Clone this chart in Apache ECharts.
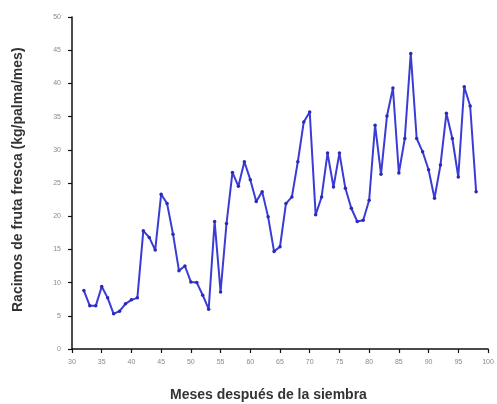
<!DOCTYPE html>
<html>
<head>
<meta charset="utf-8">
<script src="https://cdn.jsdelivr.net/npm/echarts@6/dist/echarts.min.js"></script>
<style>html,body{margin:0;padding:0;background:#fff;}#c{width:497px;height:404px;}</style>
</head>
<body>
<div id="c"></div>
<script>
const months = [32,33,34,35,36,37,38,39,40,41,42,43,44,45,46,47,48,49,50,51,52,53,54,55,56,57,58,59,60,61,62,63,64,65,66,67,68,69,70,71,72,73,74,75,76,77,78,79,80,81,82,83,84,85,86,87,88,89,90,91,92,93,94,95,96,97,98];
const racimos = [8.8,6.5,6.5,9.4,7.7,5.3,5.7,6.8,7.4,7.7,17.8,16.8,14.9,23.3,21.9,17.3,11.8,12.5,10.1,10.0,8.1,6.0,19.2,8.6,18.9,26.6,24.5,28.2,25.5,22.2,23.7,19.9,14.7,15.4,21.9,22.9,28.2,34.2,35.7,20.2,22.9,29.5,24.4,29.5,24.2,21.2,19.2,19.4,22.4,33.7,26.3,35.1,39.3,26.5,31.7,44.5,31.7,29.7,27.0,22.7,27.7,35.5,31.7,25.9,39.5,36.6,23.7];
const xTitle = 'Meses después de la siembra';
const yTitle = 'Racimos de fruta fresca (kg/palma/mes)';

const chart = echarts.init(document.getElementById('c'));
chart.setOption({
  animation: false,
  backgroundColor: '#ffffff',
  grid: {left: 72, right: 9, top: 17, bottom: 55},
  xAxis: {
    type: 'value', min: 30, max: 100, interval: 5,
    axisLine: {show: true, lineStyle: {color: '#111', width: 1.5}},
    axisTick: {show: true, length: 4, lineStyle: {color: '#111', width: 1.2}},
    axisLabel: {fontSize: 7, color: '#8a8a8a', fontFamily: 'Liberation Sans', margin: 10},
    splitLine: {show: false}
  },
  yAxis: {
    type: 'value', min: 0, max: 50, interval: 5,
    axisLine: {show: true, lineStyle: {color: '#111', width: 1.5}},
    axisTick: {show: true, length: 4, lineStyle: {color: '#111', width: 1.2}},
    axisLabel: {fontSize: 7, color: '#8a8a8a', fontFamily: 'Liberation Sans', margin: 11},
    splitLine: {show: false}
  },
  graphic: [
    {type: 'text', left: 170, top: 388, style: {text: xTitle, font: 'bold 14px "Liberation Sans"', fill: '#333'}},
    {type: 'text', x: 11, y: 312, rotation: Math.PI/2, style: {text: yTitle, font: 'bold 14px "Liberation Sans"', fill: '#333', verticalAlign: 'top', align: 'left'}}
  ],
  series: [{
    type: 'line',
    data: months.map((m, i) => [m, racimos[i]]),
    symbol: 'circle', symbolSize: 3.5,
    itemStyle: {color: '#2a2ab8'},
    lineStyle: {color: '#3b3bd6', width: 2}
  }]
});
</script>
</body>
</html>
